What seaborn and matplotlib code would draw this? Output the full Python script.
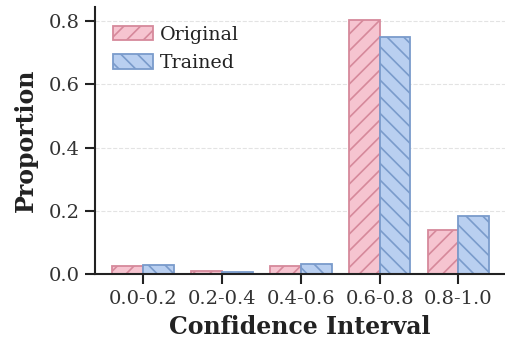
import matplotlib
matplotlib.use("Agg")
import matplotlib.pyplot as plt
import seaborn as sns
import pandas as pd

categories = ["0.0-0.2", "0.2-0.4", "0.4-0.6", "0.6-0.8", "0.8-1.0"]
original = [0.026, 0.010, 0.026, 0.803, 0.139]
trained = [0.029, 0.008, 0.034, 0.751, 0.184]
series = ["Original", "Trained"]

df = pd.DataFrame({
    "Confidence Interval": categories * 2,
    "Proportion": original + trained,
    "Model": [series[0]] * len(categories) + [series[1]] * len(categories),
})

sns.set_theme(style="ticks")
plt.rcParams["font.family"] = ["DejaVu Serif"]
plt.rcParams["hatch.linewidth"] = 1.2

fills = {"Original": "#f6c4d0", "Trained": "#b9cff0"}
edges = {"Original": "#d6899b", "Trained": "#7a9bcb"}
hatches = {"Original": "//", "Trained": "\\\\"}

fig, ax = plt.subplots(figsize=(5.06, 3.43), dpi=100)
sns.barplot(data=df, x="Confidence Interval", y="Proportion", hue="Model",
            hue_order=series, palette=fills, width=0.78, ax=ax, saturation=1)

for cont, name in zip(ax.containers, series):
    for p in cont:
        p.set_edgecolor(edges[name])
        p.set_hatch(hatches[name])
        p.set_linewidth(1.3)

ax.yaxis.grid(True, linestyle="--", color="#e3e3e3", linewidth=0.8)
ax.set_axisbelow(True)
ax.set_ylim(0, 0.845)
ax.set_xlim(-0.61, 4.59)
ax.set_yticks([0, 0.2, 0.4, 0.6, 0.8])
ax.tick_params(axis="both", labelsize=14, colors="#222222", length=7, width=1.5, pad=4)
for lbl in ax.get_xticklabels() + ax.get_yticklabels():
    lbl.set_color("#333333")
for s in ["left", "bottom"]:
    ax.spines[s].set_linewidth(1.5)
    ax.spines[s].set_color("#222222")
sns.despine(ax=ax)
ax.set_xlabel("Confidence Interval", fontsize=17, fontweight="bold", color="#222222", labelpad=5)
ax.set_ylabel("Proportion", fontsize=17, fontweight="bold", color="#222222", labelpad=8)

leg = ax.legend(frameon=False, fontsize=13.7, loc="upper left",
                bbox_to_anchor=(0.01, 0.98), handlelength=2.1, handleheight=0.82,
                labelspacing=0.55, borderaxespad=0.3, handletextpad=0.4)
for t in leg.get_texts():
    t.set_color("#222222")
for h, name in zip(leg.legend_handles, series):
    h.set_edgecolor(edges[name])
    h.set_hatch(hatches[name])
    h.set_linewidth(1.3)

fig.subplots_adjust(left=0.188, right=0.998, top=0.98, bottom=0.2)
fig.savefig("out.png", dpi=100)
